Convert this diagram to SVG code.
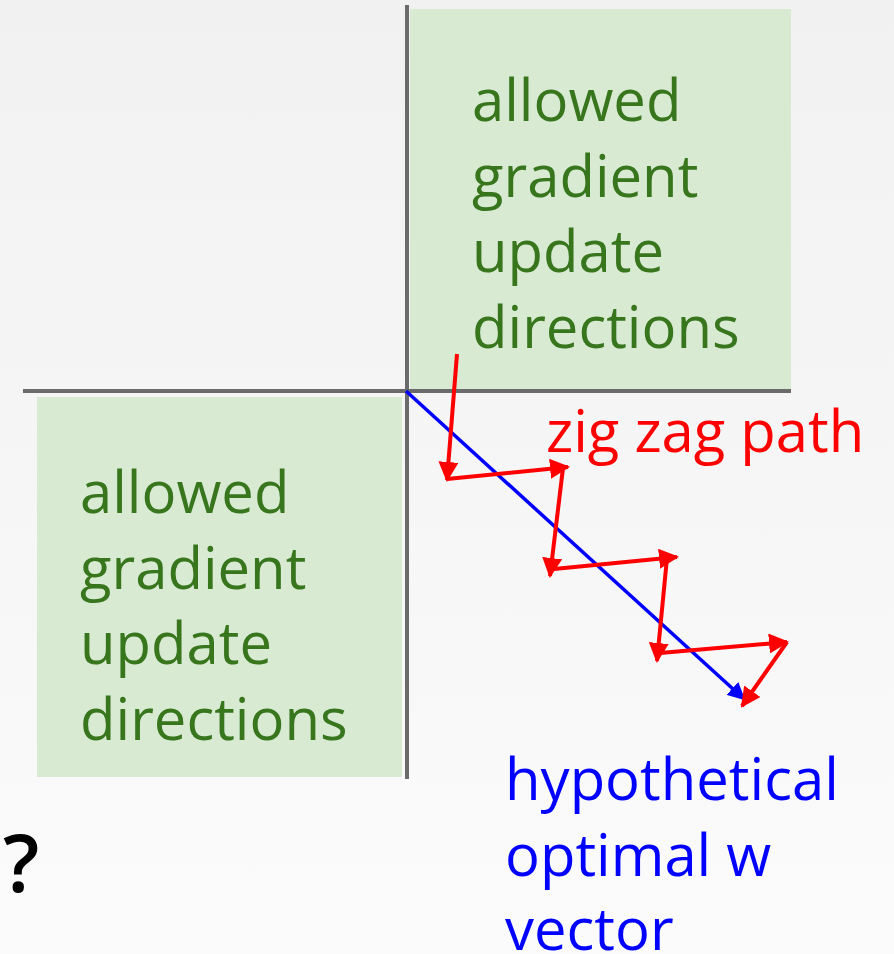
<svg xmlns="http://www.w3.org/2000/svg" width="894" height="954" viewBox="0 0 894 954">
<defs>
<linearGradient id="bg" x1="0" y1="0" x2="0" y2="1">
<stop offset="0" stop-color="#f1f1f1"/>
<stop offset="1" stop-color="#fbfbfb"/>
</linearGradient>
<marker id="ar" viewBox="0 0 10 10" refX="9" refY="5" markerWidth="5" markerHeight="5" markerUnits="strokeWidth" orient="auto">
<path d="M0,0 L10,5 L0,10 z" fill="#ff0000"/>
</marker>
<marker id="ab" viewBox="0 0 10 10" refX="9" refY="5" markerWidth="5" markerHeight="5" markerUnits="strokeWidth" orient="auto">
<path d="M0,0 L10,5 L0,10 z" fill="#0000ff"/>
</marker>
<style>
.g{fill:#d9ead3}
.ax{stroke:#6b6b6b;stroke-width:4}
.lbl{font-family:"Open Sans","DejaVu Sans",sans-serif;font-size:58px}
.gt{fill:#38761d}
.r{stroke:#ff0000;stroke-width:4;fill:none;marker-end:url(#ar)}
.b{stroke:#0000ff;stroke-width:3.5;fill:none;marker-end:url(#ab)}
</style>
</defs>
<rect width="894" height="954" fill="url(#bg)"/>
<g id="region-top-right">
<rect class="g" x="410" y="9" width="381" height="380"/>
<text class="lbl gt"><tspan x="472" y="121">allowed</tspan><tspan x="472" y="197">gradient</tspan><tspan x="472" y="272">update</tspan><tspan x="472" y="348">directions</tspan></text>
</g>
<g id="region-bottom-left">
<rect class="g" x="37" y="397" width="365" height="380"/>
<text class="lbl gt"><tspan x="80" y="513">allowed</tspan><tspan x="80" y="589">gradient</tspan><tspan x="80" y="664">update</tspan><tspan x="80" y="740">directions</tspan></text>
</g>
<g id="axes">
<line class="ax" x1="407" y1="5" x2="407" y2="779"/>
<line class="ax" x1="23" y1="391" x2="791" y2="391"/>
</g>
<g id="connectors">
<line class="b" x1="406" y1="391" x2="744" y2="699"/>
<line class="r" x1="457" y1="354" x2="447" y2="480"/>
<line class="r" x1="447" y1="479" x2="568" y2="467"/>
<line class="r" x1="563" y1="468" x2="550" y2="576"/>
<line class="r" x1="554" y1="569" x2="677" y2="557"/>
<line class="r" x1="667" y1="558" x2="657" y2="661"/>
<line class="r" x1="660" y1="653" x2="787" y2="642"/>
<line class="r" x1="787" y1="642" x2="742" y2="706"/>
</g>
<g id="label-zigzag">
<text class="lbl" x="546" y="452" fill="#ff0000">zig zag path</text>
</g>
<g id="label-optimal">
<text class="lbl" fill="#0000ff"><tspan x="505" y="800">hypothetical</tspan><tspan x="505" y="876">optimal w</tspan><tspan x="505" y="950">vector</tspan></text>
</g>
<g id="label-question">
<text class="lbl" x="3" y="892" fill="#000000" style="font-size:80px;font-weight:600">?</text>
</g>
</svg>
